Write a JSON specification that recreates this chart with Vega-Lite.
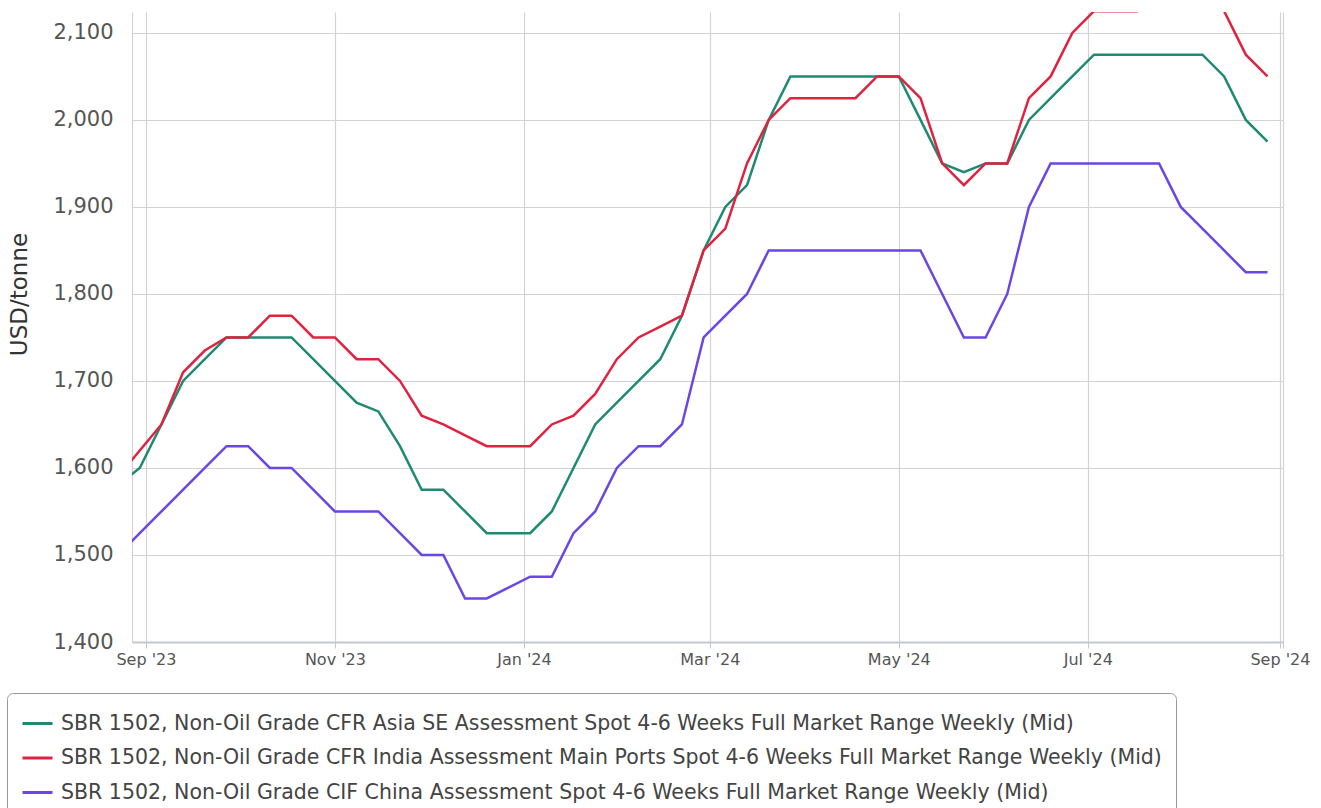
{
  "$schema": "https://vega.github.io/schema/vega-lite/v6.json",
  "width": 1151,
  "height": 630,
  "autosize": {"type": "none"},
  "padding": {"left": 132, "top": 12, "right": 38, "bottom": 166},
  "background": "white",
  "config": {"view": {"stroke": null}, "font": "DejaVu Sans"},
  "data": {
    "values": [
      {"date": "2023-08-23", "a": 1580, "i": 1590, "c": 1500},
      {"date": "2023-08-30", "a": 1600, "i": 1620, "c": 1525},
      {"date": "2023-09-06", "a": 1650, "i": 1650, "c": 1550},
      {"date": "2023-09-13", "a": 1700, "i": 1710, "c": 1575},
      {"date": "2023-09-20", "a": 1725, "i": 1735, "c": 1600},
      {"date": "2023-09-27", "a": 1750, "i": 1750, "c": 1625},
      {"date": "2023-10-04", "a": 1750, "i": 1750, "c": 1625},
      {"date": "2023-10-11", "a": 1750, "i": 1775, "c": 1600},
      {"date": "2023-10-18", "a": 1750, "i": 1775, "c": 1600},
      {"date": "2023-10-25", "a": 1725, "i": 1750, "c": 1575},
      {"date": "2023-11-01", "a": 1700, "i": 1750, "c": 1550},
      {"date": "2023-11-08", "a": 1675, "i": 1725, "c": 1550},
      {"date": "2023-11-15", "a": 1665, "i": 1725, "c": 1550},
      {"date": "2023-11-22", "a": 1625, "i": 1700, "c": 1525},
      {"date": "2023-11-29", "a": 1575, "i": 1660, "c": 1500},
      {"date": "2023-12-06", "a": 1575, "i": 1650, "c": 1500},
      {"date": "2023-12-13", "a": 1550, "i": 1637.5, "c": 1450},
      {"date": "2023-12-20", "a": 1525, "i": 1625, "c": 1450},
      {"date": "2024-01-03", "a": 1525, "i": 1625, "c": 1475},
      {"date": "2024-01-10", "a": 1550, "i": 1650, "c": 1475},
      {"date": "2024-01-17", "a": 1600, "i": 1660, "c": 1525},
      {"date": "2024-01-24", "a": 1650, "i": 1685, "c": 1550},
      {"date": "2024-01-31", "a": 1675, "i": 1725, "c": 1600},
      {"date": "2024-02-07", "a": 1700, "i": 1750, "c": 1625},
      {"date": "2024-02-14", "a": 1725, "i": 1762.5, "c": 1625},
      {"date": "2024-02-21", "a": 1775, "i": 1775, "c": 1650},
      {"date": "2024-02-28", "a": 1850, "i": 1850, "c": 1750},
      {"date": "2024-03-06", "a": 1900, "i": 1875, "c": 1775},
      {"date": "2024-03-13", "a": 1925, "i": 1950, "c": 1800},
      {"date": "2024-03-20", "a": 2000, "i": 2000, "c": 1850},
      {"date": "2024-03-27", "a": 2050, "i": 2025, "c": 1850},
      {"date": "2024-04-03", "a": 2050, "i": 2025, "c": 1850},
      {"date": "2024-04-10", "a": 2050, "i": 2025, "c": 1850},
      {"date": "2024-04-17", "a": 2050, "i": 2025, "c": 1850},
      {"date": "2024-04-24", "a": 2050, "i": 2050, "c": 1850},
      {"date": "2024-05-01", "a": 2050, "i": 2050, "c": 1850},
      {"date": "2024-05-08", "a": 2000, "i": 2025, "c": 1850},
      {"date": "2024-05-15", "a": 1950, "i": 1950, "c": 1800},
      {"date": "2024-05-22", "a": 1940, "i": 1925, "c": 1750},
      {"date": "2024-05-29", "a": 1950, "i": 1950, "c": 1750},
      {"date": "2024-06-05", "a": 1950, "i": 1950, "c": 1800},
      {"date": "2024-06-12", "a": 2000, "i": 2025, "c": 1900},
      {"date": "2024-06-19", "a": 2025, "i": 2050, "c": 1950},
      {"date": "2024-06-26", "a": 2050, "i": 2100, "c": 1950},
      {"date": "2024-07-03", "a": 2075, "i": 2125, "c": 1950},
      {"date": "2024-07-10", "a": 2075, "i": 2125, "c": 1950},
      {"date": "2024-07-17", "a": 2075, "i": 2125, "c": 1950},
      {"date": "2024-07-24", "a": 2075, "i": 2150, "c": 1950},
      {"date": "2024-07-31", "a": 2075, "i": 2150, "c": 1900},
      {"date": "2024-08-07", "a": 2075, "i": 2150, "c": 1875},
      {"date": "2024-08-14", "a": 2050, "i": 2125, "c": 1850},
      {"date": "2024-08-21", "a": 2000, "i": 2075, "c": 1825},
      {"date": "2024-08-28", "a": 1975, "i": 2050, "c": 1825}
    ]
  },
  "transform": [
    {"fold": ["a", "i", "c"], "as": ["key", "value"]},
    {
      "lookup": "key",
      "from": {
        "data": {
          "values": [
            {"key": "a", "series": "SBR 1502, Non-Oil Grade CFR Asia SE Assessment Spot 4-6 Weeks Full Market Range Weekly (Mid)"},
            {"key": "i", "series": "SBR 1502, Non-Oil Grade CFR India Assessment Main Ports Spot 4-6 Weeks Full Market Range Weekly (Mid)"},
            {"key": "c", "series": "SBR 1502, Non-Oil Grade CIF China Assessment Spot 4-6 Weeks Full Market Range Weekly (Mid)"}
          ]
        },
        "key": "key",
        "fields": ["series"]
      }
    }
  ],
  "mark": {"type": "line", "clip": true, "strokeWidth": 2.5},
  "encoding": {
    "x": {
      "field": "date",
      "type": "temporal",
      "scale": {
        "type": "utc",
        "domain": [
          {"year": 2023, "month": "aug", "date": 27, "hours": 12, "utc": true},
          {"year": 2024, "month": "sep", "date": 2, "utc": true}
        ]
      },
      "axis": {
        "title": null,
        "values": [
          {"year": 2023, "month": "sep", "date": 1, "utc": true},
          {"year": 2023, "month": "nov", "date": 1, "utc": true},
          {"year": 2024, "month": "jan", "date": 1, "utc": true},
          {"year": 2024, "month": "mar", "date": 1, "utc": true},
          {"year": 2024, "month": "may", "date": 1, "utc": true},
          {"year": 2024, "month": "jul", "date": 1, "utc": true},
          {"year": 2024, "month": "sep", "date": 1, "utc": true},
          {"year": 2024, "month": "sep", "date": 2, "utc": true}
        ],
        "labelExpr": "utcdate(datum.value) == 2 ? '' : utcFormat(datum.value, \"%b '%y\")",
        "grid": true,
        "gridColor": "#d3d3d3",
        "gridWidth": 1.2,
        "domainColor": "#c4c8d2",
        "domainWidth": 2,
        "tickColor": "#c4c8d2",
        "tickSize": 6,
        "labelFontSize": 16,
        "labelColor": "#555",
        "labelPadding": 3,
        "labelOverlap": false
      }
    },
    "y": {
      "field": "value",
      "type": "quantitative",
      "scale": {"domain": [1400, 2124], "nice": false, "zero": false},
      "axis": {
        "title": "USD/tonne",
        "titleFontSize": 23,
        "titleFontWeight": "normal",
        "titleColor": "#333",
        "titleX": -113,
        "titleY": 282,
        "titleAngle": 270,
        "titleAlign": "center",
        "titleBaseline": "middle",
        "values": [1400, 1500, 1600, 1700, 1800, 1900, 2000, 2100],
        "format": ",.0f",
        "tickSize": 0,
        "labelPadding": 19,
        "labelFontSize": 21,
        "labelColor": "#555",
        "grid": true,
        "gridColor": "#d3d3d3",
        "gridWidth": 1.2,
        "domain": true,
        "domainColor": "#d3d3d3",
        "domainWidth": 1.2
      }
    },
    "color": {
      "field": "series",
      "type": "nominal",
      "sort": null,
      "scale": {
        "domain": [
          "SBR 1502, Non-Oil Grade CFR Asia SE Assessment Spot 4-6 Weeks Full Market Range Weekly (Mid)",
          "SBR 1502, Non-Oil Grade CFR India Assessment Main Ports Spot 4-6 Weeks Full Market Range Weekly (Mid)",
          "SBR 1502, Non-Oil Grade CIF China Assessment Spot 4-6 Weeks Full Market Range Weekly (Mid)"
        ],
        "range": ["#1e8a72", "#e0223f", "#6a46e4"]
      },
      "legend": {
        "orient": "none",
        "legendX": -125,
        "legendY": 681,
        "direction": "vertical",
        "title": null,
        "symbolType": "stroke",
        "symbolSize": 900,
        "symbolStrokeWidth": 3,
        "labelFontSize": 20.5,
        "labelColor": "#444",
        "labelLimit": 2000,
        "labelOffset": 7,
        "rowPadding": 7.5,
        "padding": 14,
        "strokeColor": "#999",
        "cornerRadius": 6,
        "fillColor": "white"
      }
    }
  }
}
